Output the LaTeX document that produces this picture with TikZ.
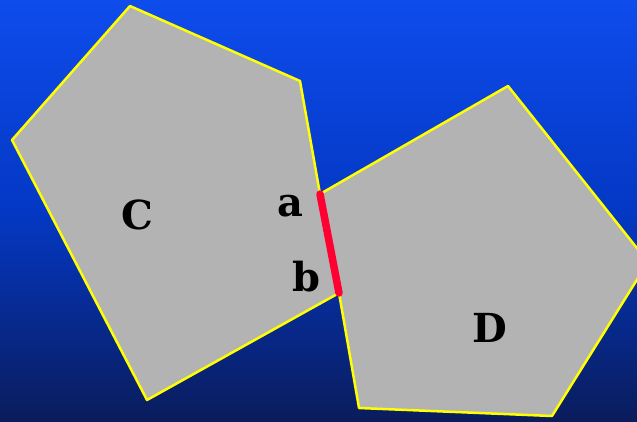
\documentclass[tikz,border=0pt]{standalone}
\usepackage{fontspec}
\setmainfont{DejaVu Serif}
\definecolor{bgtop}{RGB}{14,76,236}
\definecolor{bgmid}{RGB}{4,56,196}
\definecolor{bgbot}{RGB}{10,28,92}
\definecolor{polyfill}{RGB}{179,179,179}
\definecolor{edgeyellow}{RGB}{255,255,0}
\definecolor{edgered}{RGB}{255,0,51}
\tikzset{
  poly/.style={fill=polyfill, draw=edgeyellow, line width=2.5pt, line join=round},
  biglabel/.style={font=\bfseries\fontsize{40}{40}\selectfont, inner sep=0pt},
  smalllabel/.style={font=\bfseries\fontsize{40}{40}\selectfont, inner sep=0pt},
  shared/.style={draw=edgered, line width=7.5pt, line cap=round}
}
\begin{document}
\begin{tikzpicture}[x=1pt,y=-1pt]
\useasboundingbox (0,0) rectangle (637,421);
\shade[top color=bgtop, bottom color=bgbot, middle color=bgmid] (0,0) rectangle (637,421);
\begin{scope}
\clip (0,0) rectangle (637,421);
\coordinate (a) at (320,194);
\coordinate (b) at (339,293);
\draw[poly] (130,6) -- (300,81) -- (a) -- (b) -- (147,400) -- (12,140) -- cycle;
\draw[poly] (a) -- (508,86) -- (648,262) -- (552,416) -- (359,408) -- (b) -- cycle;
\draw[shared] (a) -- (b);
\end{scope}
\node[biglabel] (C) at (137,215) {C};
\node[biglabel] (D) at (490,328) {D};
\node[smalllabel, anchor=base] (la) at (290,216) {a};
\node[smalllabel, anchor=base] (lb) at (306,291) {b};
\end{tikzpicture}
\end{document}
